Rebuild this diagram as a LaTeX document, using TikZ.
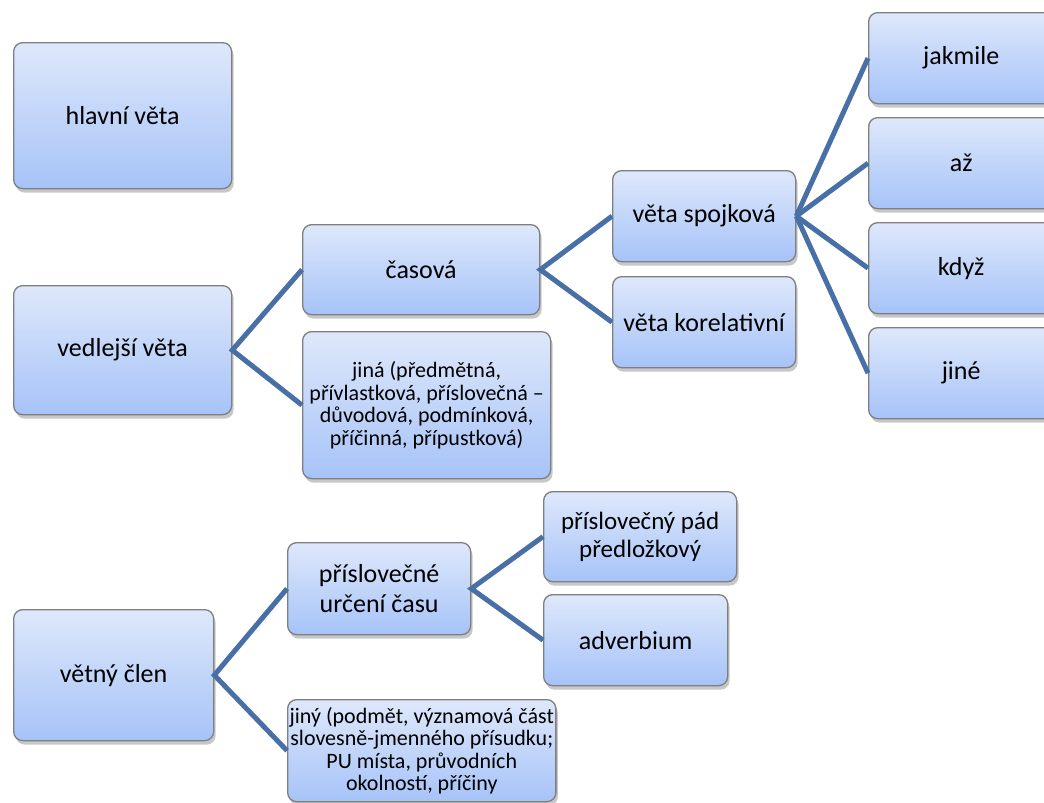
\documentclass[tikz,border=0pt]{standalone}
\usepackage{fontspec}
\setmainfont{Carlito}
\usetikzlibrary{shadows}

\definecolor{boxtop}{HTML}{DEE8FB}
\definecolor{boxbottom}{HTML}{A6C3F8}
\definecolor{boxborder}{HTML}{7F7F7F}
\definecolor{linkblue}{HTML}{4870A6}

\newcommand{\bigtext}{\fontsize{26}{30}\selectfont}
\newcommand{\smalltext}{\fontsize{22}{22.5}\selectfont}

\tikzset{
  box/.style={draw=boxborder, line width=1.3pt, rounded corners=9pt,
    top color=boxtop, bottom color=boxbottom, anchor=north west,
    drop shadow={shadow xshift=2pt, shadow yshift=-4pt, opacity=0.22, fill=black},
    align=center, inner sep=2pt, font=\bigtext},
  link/.style={draw=linkblue, line width=5pt},
}

\begin{document}
\begin{tikzpicture}[x=1pt, y=-1pt]
    \useasboundingbox (0,0) rectangle (1044,803);

    % Left column
    \node[box, minimum width=218pt, minimum height=146pt] (hlavni) at (13,42) {hlavní věta};
    \node[box, minimum width=218pt, minimum height=129pt] (vedlejsi) at (13,285) {vedlejší věta};
    \node[box, minimum width=200pt, minimum height=131pt] (clen) at (13,609) {větný člen};

    % Second column
    \node[box, minimum width=237pt, minimum height=90pt] (casova) at (302,224) {časová};
    \node[box, minimum width=248pt, minimum height=147pt, font=\smalltext] (jina) at (302,331)
        {jiná (předmětná,\\přívlastková, příslovečná –\\důvodová, podmínková,\\příčinná, přípustková)};
    \node[box, minimum width=183pt, minimum height=92pt] (puc) at (287,542) {příslovečné\\určení času};
    \node[box, minimum width=268pt, minimum height=102pt, font=\smalltext] (jiny) at (287,699)
        {jiný (podmět, významová část\\slovesně-jmenného přísudku;\\PU místa, průvodních\\okolností, příčiny};

    % Third column
    \node[box, minimum width=183pt, minimum height=91pt] (spojkova) at (612,170) {věta spojková};
    \node[box, minimum width=183pt, minimum height=91pt] (korelativni) at (612,276) {věta korelativní};
    \node[box, minimum width=193pt, minimum height=90pt, font=\fontsize{25}{28}\selectfont] (pad) at (543,491)
        {příslovečný pád\\předložkový};
    \node[box, minimum width=184pt, minimum height=91pt] (adverbium) at (543,594) {adverbium};

    % Conjunctions
    \node[box, minimum width=185pt, minimum height=91pt] (jakmile) at (868,12) {jakmile};
    \node[box, minimum width=185pt, minimum height=91pt] (az) at (868,117) {až};
    \node[box, minimum width=185pt, minimum height=91pt] (kdyz) at (868,222) {když};
    \node[box, minimum width=185pt, minimum height=91pt] (jine) at (868,327) {jiné};

    % Connectors
    \draw[link] (casova.west) -- (vedlejsi.east) -- (jina.west);
    \draw[link] (spojkova.west) -- (casova.east) -- (korelativni.west);
    \foreach \n in {jakmile, az, kdyz, jine}
      \draw[link] (spojkova.east) -- (\n.west);
    \draw[link] (puc.west) -- (clen.east) -- (jiny.west);
    \draw[link] (pad.west) -- (puc.east) -- (adverbium.west);
\end{tikzpicture}
\end{document}
